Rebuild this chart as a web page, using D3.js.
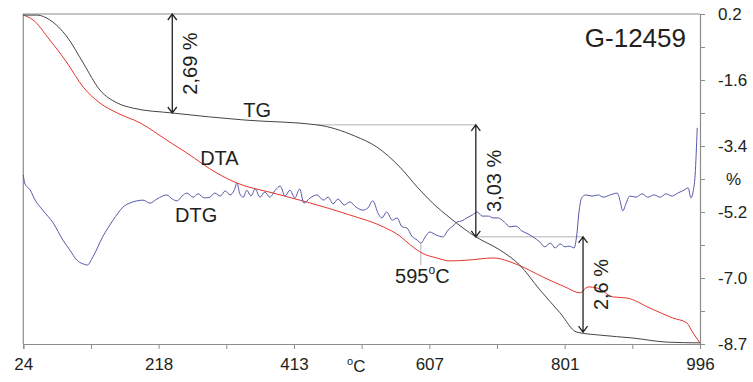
<!DOCTYPE html>
<html>
<head>
<meta charset="utf-8">
<script src="https://cdn.jsdelivr.net/npm/d3@7"></script>
<style>
  body { margin: 0; background: #fff; }
  text { font-family: "Liberation Sans", Arial, sans-serif; fill: #231f20; }
</style>
</head>
<body>
<svg id="chart" width="753" height="382"></svg>
<script>
"use strict";

// temperature (°C) / mass change (%)
const tgTemp = [24, 44, 62, 87, 110, 134, 159, 182, 238, 342, 446, 500, 532, 565, 590, 612, 637, 674, 709, 737, 766, 795, 819, 852, 900, 949, 996];
const tgValue = [0.17, 0.17, 0.04, -0.42, -1.12, -1.85, -2.20, -2.34, -2.47, -2.66, -2.79, -3.09, -3.39, -3.93, -4.47, -4.90, -5.30, -5.81, -6.17, -6.57, -7.24, -7.86, -8.38, -8.46, -8.54, -8.65, -8.67];

// DTA, plotted on the same scale (relative units)
const dtaTemp = [24, 38, 62, 87, 110, 134, 159, 192, 230, 259, 302, 331, 383, 431, 493, 541, 565, 580, 597, 618, 637, 661, 699, 735, 770, 802, 824, 835, 848, 871, 891, 924, 957, 977, 986, 996];
const dtaValue = [0.17, 0.04, -0.50, -1.12, -1.77, -2.20, -2.47, -2.74, -3.20, -3.55, -4.09, -4.36, -4.63, -4.87, -5.22, -5.54, -5.79, -6.03, -6.25, -6.38, -6.46, -6.44, -6.38, -6.57, -6.89, -7.16, -7.32, -7.16, -7.19, -7.43, -7.46, -7.73, -8.00, -8.13, -8.40, -8.67];

// DTG, plotted on the same scale (relative units)
const dtgTemp = [24, 26, 34, 41, 52, 67, 81, 91, 101, 110, 116, 124, 138, 153, 160, 167, 177, 187, 196, 206, 216, 230, 238, 245, 252, 259, 268, 275, 284, 292, 299, 307, 314, 321, 327, 331, 335, 340, 345, 351, 357, 364, 371, 378, 386, 393, 400, 407, 414, 421, 427, 436, 446, 455, 462, 469, 476, 485, 493, 502, 512, 519, 526, 534, 539, 546, 554, 561, 568, 575, 582, 590, 595, 602, 608, 617, 627, 634, 641, 647, 654, 661, 669, 676, 683, 692, 699, 706, 715, 723, 732, 740, 749, 756, 766, 773, 781, 788, 795, 802, 809, 815, 819, 822, 826, 832, 841, 850, 857, 867, 877, 881, 885, 890, 895, 904, 913, 921, 930, 939, 947, 956, 964, 973, 979, 983, 986, 989, 992];
const dtgValue = [-4.14, -4.36, -4.55, -4.82, -5.09, -5.44, -5.90, -6.17, -6.44, -6.54, -6.57, -6.35, -5.81, -5.36, -5.17, -5.01, -4.90, -4.84, -4.82, -4.90, -4.79, -4.68, -4.79, -4.84, -4.71, -4.63, -4.74, -4.65, -4.76, -4.74, -4.63, -4.71, -4.57, -4.68, -4.55, -4.36, -4.65, -4.74, -4.55, -4.71, -4.52, -4.74, -4.60, -4.74, -4.55, -4.44, -4.71, -4.55, -4.76, -4.52, -4.90, -4.76, -4.68, -4.82, -4.74, -4.92, -4.79, -4.95, -4.87, -5.01, -5.09, -5.03, -4.84, -5.19, -5.30, -5.14, -5.36, -5.30, -5.54, -5.57, -5.79, -5.90, -5.98, -5.79, -5.68, -5.76, -5.81, -5.63, -5.52, -5.41, -5.38, -5.30, -5.22, -5.14, -5.25, -5.25, -5.30, -5.30, -5.41, -5.54, -5.52, -5.65, -5.73, -5.81, -5.95, -6.08, -5.98, -6.11, -6.00, -6.08, -6.06, -6.11, -5.76, -5.17, -4.76, -4.68, -4.71, -4.68, -4.74, -4.68, -4.63, -4.82, -5.11, -4.90, -4.71, -4.74, -4.65, -4.74, -4.68, -4.74, -4.65, -4.71, -4.63, -4.55, -4.49, -4.76, -4.60, -4.14, -2.87];

const xTickLabels = ["24", "218", "413", "607", "801", "996"];
const yTickLabels = ["0.2", "-1.6", "-3.4", "-5.2", "-7.0", "-8.7"];

// mass-loss steps: [temperature, from %, to %, label]
const steps = [
  [238, 0.2, -2.47, "2,69 %"],
  [674, -2.79, -5.81, "3,03 %"],
  [828, -5.81, -8.38, "2,6 %"]
];
const peakTemp = 595;

const svg = d3.select("#chart");
const plotLeft = 23.3, plotRight = 700, plotTop = 14, plotBottom = 344;

const x = d3.scaleLinear().domain([24, 996]).range([plotLeft, plotRight]);
const y = d3.scaleLinear().domain([-8.7, 0.2]).range([plotBottom, plotTop]);

const frameColor = "#8c8c8c";

// frame: top and left edges
svg.append("path")
  .attr("d", `M${plotLeft},${plotBottom}V${plotTop}H${plotRight}`)
  .attr("fill", "none")
  .attr("stroke", frameColor)
  .attr("stroke-width", 1.2);

// bottom axis
const xTicks = d3.range(11).map(i => 24 + i * (996 - 24) / 10);
const xAxis = svg.append("g")
  .attr("transform", `translate(0,${plotBottom})`)
  .call(d3.axisBottom(x).tickValues(xTicks).tickSize(5).tickPadding(9)
    .tickFormat((d, i) => i % 2 === 0 ? xTickLabels[i / 2] : ""));

// right axis
const yTicks = d3.range(11).map(i => 0.2 - i * 8.9 / 10);
const yAxis = svg.append("g")
  .attr("transform", `translate(${plotRight},0)`)
  .call(d3.axisRight(y).tickValues(yTicks).tickSize(5).tickPadding(13)
    .tickFormat((d, i) => i % 2 === 0 ? yTickLabels[i / 2] : ""));

[xAxis, yAxis].forEach(g => {
  g.select(".domain").attr("stroke", frameColor).attr("stroke-width", 1.2);
  g.selectAll(".tick line").attr("stroke", frameColor);
  g.selectAll("text").attr("font-size", 17).attr("font-family", null).attr("fill", "#231f20");
});

// axis titles
svg.append("text")
  .attr("x", plotRight + 26).attr("y", y(yTicks[5])).attr("dy", "0.35em")
  .attr("font-size", 17)
  .text("%");

const degC = svg.append("text")
  .attr("x", 347).attr("y", 372)
  .attr("font-size", 17);
degC.append("tspan").attr("font-size", 11).attr("dy", -7).text("o");
degC.append("tspan").attr("dy", 7).text("C");

// thin guide lines
const guide = "#b4b4b4";
svg.append("line")
  .attr("x1", x(446)).attr("x2", x(steps[1][0]))
  .attr("y1", y(steps[1][1])).attr("y2", y(steps[1][1]))
  .attr("stroke", guide);
svg.append("line")
  .attr("x1", x(steps[1][0])).attr("x2", x(steps[2][0]))
  .attr("y1", y(steps[2][1])).attr("y2", y(steps[2][1]))
  .attr("stroke", guide);
svg.append("line")
  .attr("x1", x(peakTemp)).attr("x2", x(peakTemp))
  .attr("y1", y(-5.98)).attr("y2", y(-6.57))
  .attr("stroke", guide);

// curves
const line = d3.line().curve(d3.curveMonotoneX).x(d => x(d[0])).y(d => y(d[1]));
const curves = [
  [d3.zip(dtaTemp, dtaValue), "#e5352b"],
  [d3.zip(dtgTemp, dtgValue), "#5659aa"],
  [d3.zip(tgTemp, tgValue), "#454545"]
];
curves.forEach(([pts, color]) => {
  svg.append("path")
    .datum(pts)
    .attr("d", line)
    .attr("fill", "none")
    .attr("stroke", color)
    .attr("stroke-width", 1)
    .attr("stroke-linejoin", "round");
});

// double arrows with step labels
steps.forEach(([t, v1, v2, label]) => {
  const ax = x(t), y1 = y(v1), y2 = y(v2);
  svg.append("path")
    .attr("d", `M${ax},${y1}V${y2}M${ax - 4.5},${y1 + 6}L${ax},${y1}L${ax + 4.5},${y1 + 6}M${ax - 4.5},${y2 - 6}L${ax},${y2}L${ax + 4.5},${y2 - 6}`)
    .attr("fill", "none")
    .attr("stroke", "#222")
    .attr("stroke-width", 1.3);
  svg.append("text")
    .attr("transform", `translate(${ax + 25},${(y1 + y2) / 2}) rotate(-90)`)
    .attr("text-anchor", "middle")
    .attr("font-size", 20)
    .text(label);
});

// curve labels
const labels = [["TG", 340, -2.58], ["DTA", 278, -3.87], ["DTG", 242, -5.41]];
labels.forEach(([txt, t, v]) => {
  svg.append("text")
    .attr("x", x(t)).attr("y", y(v))
    .attr("font-size", 20)
    .text(txt);
});

const peak = svg.append("text")
  .attr("x", x(558)).attr("y", y(-7.05))
  .attr("font-size", 20);
peak.append("tspan").text(String(peakTemp));
peak.append("tspan").attr("font-size", 12).attr("dy", -9).text("o");
peak.append("tspan").attr("dy", 9).text("C");

svg.append("text")
  .attr("x", 686).attr("y", 47)
  .attr("text-anchor", "end")
  .attr("font-size", 26)
  .text("G-12459");
</script>
</body>
</html>
